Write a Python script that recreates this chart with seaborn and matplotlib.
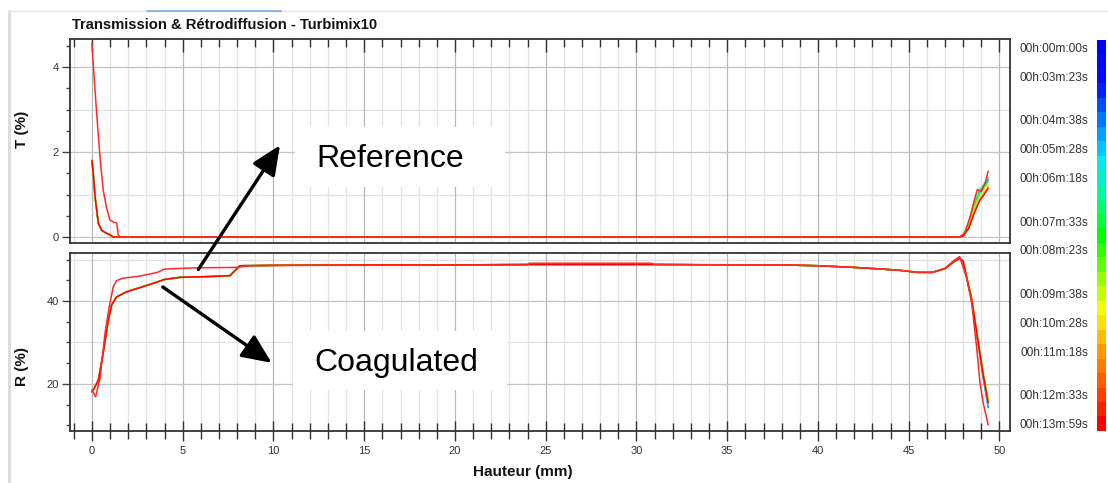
import numpy as np
import pandas as pd
import matplotlib
matplotlib.use("Agg")
import matplotlib.pyplot as plt
from matplotlib.colors import LinearSegmentedColormap
from matplotlib.patches import Rectangle
from matplotlib.lines import Line2D
from matplotlib.ticker import MultipleLocator
import seaborn as sns

sns.set_theme(style="white")
plt.rcParams['font.family'] = ['Liberation Sans', 'DejaVu Sans']

### data

# reference profile (transmission, backscattering)
ref_t_x = [0, 0.13, 0.26, 0.44, 0.62, 0.8, 0.99, 1.2, 1.36, 1.45, 1.54, 47.8, 48.1, 48.4, 48.6, 48.78, 49.0, 49.2, 49.38]
ref_t_y = [4.55, 3.7, 2.9, 1.89, 1.1, 0.7, 0.4, 0.35, 0.33, 0.05, 0, 0, 0.1, 0.5, 0.85, 1.12, 1.07, 1.26, 1.55]

ref_r_x = [0, 0.2, 0.45, 0.72, 0.95, 1.17, 1.36, 1.7, 2.5, 3.2, 3.6, 4.0, 5.8, 8.0, 8.7, 12, 18, 24, 24.1,
           30.8, 31, 38, 40, 42, 43.5, 44.5, 45.5, 46.3, 47.0, 47.5, 47.8, 48.2, 48.47, 48.75, 48.93, 49.1, 49.38]
ref_r_y = [18.6, 16.9, 21.5, 32.3, 38.5, 43.4, 44.9, 45.5, 45.9, 46.5, 46.9, 47.7, 48.0, 48.1, 48.5, 48.6, 48.6, 48.7, 49.1,
           49.1, 48.8, 48.7, 48.5, 48.1, 47.7, 47.4, 46.9, 46.9, 47.9, 49.8, 50.7, 45.5, 39.5, 28.5, 20.2, 15.5, 10.1]

# coagulated scans: common body
coag_t_x = [0, 0.07, 0.17, 0.35, 0.53, 0.75, 1.0, 1.17]
coag_t_y = [1.8, 1.5, 0.95, 0.32, 0.16, 0.1, 0.05, 0]
coag_r_x = [0, 0.15, 0.35, 0.62, 0.9, 1.08, 1.36, 1.9, 3.2, 4.0, 4.85, 6.5, 7.6, 8.15, 10, 15, 20, 24, 28, 31,
            35, 38, 40, 42, 43.5, 44.5, 45.5, 46.3, 47.0, 47.5, 47.8]
coag_r_y = [18.1, 19.2, 20.9, 27.5, 35.4, 39.0, 41.0, 42.2, 44.0, 45.2, 45.7, 45.9, 46.1, 48.5, 48.6, 48.7, 48.7, 48.8, 48.8, 48.8,
            48.7, 48.7, 48.5, 48.1, 47.7, 47.4, 46.9, 46.9, 47.8, 49.5, 50.3]

# coagulated scans: right-hand tails, one row per drawn scan
scan_index = [5, 10, 15, 20, 26]
tail_t_x = [47.8, 48.0, 48.3, 48.6, 48.9, 49.15, 49.38]
tail_t_y = [
    [0, 0.03, 0.30, 0.75, 1.05, 1.20, 1.35],
    [0, 0.05, 0.35, 0.80, 1.10, 1.25, 1.40],
    [0, 0.04, 0.30, 0.70, 1.00, 1.15, 1.30],
    [0, 0.02, 0.22, 0.60, 0.90, 1.05, 1.20],
    [0, 0.02, 0.20, 0.55, 0.85, 1.00, 1.15],
]
tail_r_x = [48.0, 48.2, 48.47, 48.83, 49.1, 49.38]
tail_r_y = [
    [49.5, 45.3, 40.0, 29.5, 21.5, 14.3],
    [49.6, 45.5, 40.2, 29.8, 22.0, 14.8],
    [49.7, 45.7, 40.5, 30.2, 22.5, 15.5],
    [49.7, 45.8, 40.7, 30.5, 23.0, 16.2],
    [49.6, 45.6, 40.3, 30.0, 22.3, 15.4],
]

# colour scale: scans 0..26, labelled ones
n_scans = 27
label_index = [0, 2, 5, 7, 9, 12, 14, 17, 19, 21, 24, 26]
label_text = ['00h:00m:00s', '00h:03m:23s', '00h:04m:38s', '00h:05m:28s', '00h:06m:18s', '00h:07m:33s',
              '00h:08m:23s', '00h:09m:38s', '00h:10m:28s', '00h:11m:18s', '00h:12m:33s', '00h:13m:59s']

cmap = LinearSegmentedColormap.from_list(
    'turbi', ['#0000ff', '#0010ff', '#0080ff', '#00e8ff', '#00ff90', '#00ff00',
              '#80ff00', '#ffff00', '#ffa000', '#ff5000', '#ff0000']).resampled(n_scans)

### figure

W, H = 1108, 483
fig = plt.figure(figsize=(W / 100, H / 100), dpi=100)
ax_t = fig.add_axes([70 / W, 1 - 243 / H, 940 / W, 204 / H])
ax_r = fig.add_axes([70 / W, 1 - 431 / H, 940 / W, 178 / H])
cax = fig.add_axes([1097 / W, 1 - 431 / H, 9 / W, 391 / H])

line_w = 1.1
for k, idx in enumerate(scan_index):
    c = cmap(idx / (n_scans - 1))
    df_t = pd.DataFrame({'x': coag_t_x + tail_t_x, 'y': coag_t_y + tail_t_y[k]})
    df_r = pd.DataFrame({'x': coag_r_x + tail_r_x, 'y': coag_r_y + tail_r_y[k]})
    sns.lineplot(data=df_t, x='x', y='y', ax=ax_t, color=c, lw=line_w, sort=False, estimator=None)
    sns.lineplot(data=df_r, x='x', y='y', ax=ax_r, color=c, lw=line_w, sort=False, estimator=None)

sns.lineplot(x=ref_t_x, y=ref_t_y, ax=ax_t, color='#ff2a2a', lw=line_w, sort=False, estimator=None)
sns.lineplot(x=ref_r_x, y=ref_r_y, ax=ax_r, color='#ff2a2a', lw=line_w, sort=False, estimator=None)

## axes styling

for ax in (ax_t, ax_r):
    ax.set_xlim(-1.21, 50.58)
    ax.xaxis.set_major_locator(MultipleLocator(5))
    ax.xaxis.set_minor_locator(MultipleLocator(1))
    ax.grid(axis='x', which='major', color='#b8b8b8', lw=0.9)
    ax.grid(axis='x', which='minor', color='#e4e4e4', lw=0.9)
    ax.grid(axis='y', which='major', color='#c4c4c4', lw=0.9)
    ax.set_xlabel('')
    ax.set_ylabel('')
    for s in ax.spines.values():
        s.set_color('#333333')
        s.set_linewidth(1.3)
    ax.tick_params(axis='y', which='major', direction='out', length=6, width=1, color='#444444',
                   labelsize=8, labelcolor='#333333', pad=2, left=True)
    ax.tick_params(axis='y', which='minor', direction='out', length=3, width=1, color='#444444', left=True)

ax_t.set_ylim(-0.14, 4.66)
ax_t.yaxis.set_major_locator(MultipleLocator(2))
ax_t.yaxis.set_minor_locator(MultipleLocator(0.5))
for v in (1, 3):
    ax_t.axhline(v, color='#e2e2e2', lw=0.9, zorder=0.5)
ax_t.tick_params(axis='x', which='both', bottom=False, top=True, labelbottom=False, direction='in',
                 color='#333333', width=1)
ax_t.tick_params(axis='x', which='major', length=9)
ax_t.tick_params(axis='x', which='minor', length=5.5)

ax_r.set_ylim(8.67, 51.57)
ax_r.yaxis.set_major_locator(MultipleLocator(20))
ax_r.yaxis.set_minor_locator(MultipleLocator(5))
for v in (30, 50):
    ax_r.axhline(v, color='#e2e2e2', lw=0.9, zorder=0.5)
ax_r.tick_params(axis='x', which='both', bottom=True, top=False, direction='inout', color='#333333', width=1,
                 labelsize=8, labelcolor='#333333', pad=4)
ax_r.tick_params(axis='x', which='major', length=14)
ax_r.tick_params(axis='x', which='minor', length=11)

## colour bar with scan times

cax.imshow(np.arange(n_scans)[:, None], cmap=cmap, vmin=0, vmax=n_scans - 1, aspect='auto',
           interpolation='nearest')
cax.set_xticks([])
cax.set_yticks(label_index)
cax.set_yticklabels(label_text)
cax.yaxis.tick_left()
cax.tick_params(axis='y', length=0, pad=6.5, labelsize=8.6, labelcolor='#333333')
for s in cax.spines.values():
    s.set_visible(False)

## texts

fig.text(72 / W, 1 - 29 / H, 'Transmission & Rétrodiffusion - Turbimix10', fontsize=10.6, fontweight='bold',
         color='#141414', ha='left', va='baseline')
fig.text(22 / W, 1 - 129 / H, 'T (%)', fontsize=11, fontweight='bold', rotation=90, ha='center', va='center',
         color='#141414')
fig.text(22 / W, 1 - 367 / H, 'R (%)', fontsize=11, fontweight='bold', rotation=90, ha='center', va='center',
         color='#141414')
fig.text(523 / W, 1 - 472 / H, 'Hauteur (mm)', fontsize=11, fontweight='bold', ha='center', va='center',
         color='#141414')

# white boxes behind the two annotations
fig.patches.append(Rectangle((295 / W, 1 - 187 / H), 210 / W, 60 / H, transform=fig.transFigure,
                             facecolor='white', edgecolor='none', zorder=2))
fig.patches.append(Rectangle((293 / W, 1 - 390 / H), 214 / W, 59 / H, transform=fig.transFigure,
                             facecolor='white', edgecolor='none', zorder=2))
fig.text(316 / W, 1 - 167 / H, 'Reference', fontsize=23, ha='left', va='baseline', color='black', zorder=3)
fig.text(314 / W, 1 - 371 / H, 'Coagulated', fontsize=23, ha='left', va='baseline', color='black', zorder=3)

arrow = dict(arrowstyle='-|>,head_length=0.9,head_width=0.4', lw=2.4, color='black',
             shrinkA=0, shrinkB=0, mutation_scale=20)
ax_r.annotate('', xy=(10.36, 2.16), xycoords=ax_t.transData, xytext=(5.86, 47.6), textcoords='data',
              arrowprops=arrow, annotation_clip=False)
ax_r.annotate('', xy=(9.9, 25.1), xytext=(3.9, 43.4), arrowprops=arrow, annotation_clip=False)

# screenshot frame
fig.add_artist(Line2D([9 / W, 9 / W], [0, 1 - 11 / H], color='#dcdcdc', lw=2.2))
fig.add_artist(Line2D([9 / W, 1], [1 - 11 / H, 1 - 11 / H], color='#e4e4e4', lw=1))
fig.add_artist(Line2D([147 / W, 281 / W], [1 - 11 / H, 1 - 11 / H], color='#7fa7e8', lw=1.2))

fig.savefig('out.png', dpi=100)
